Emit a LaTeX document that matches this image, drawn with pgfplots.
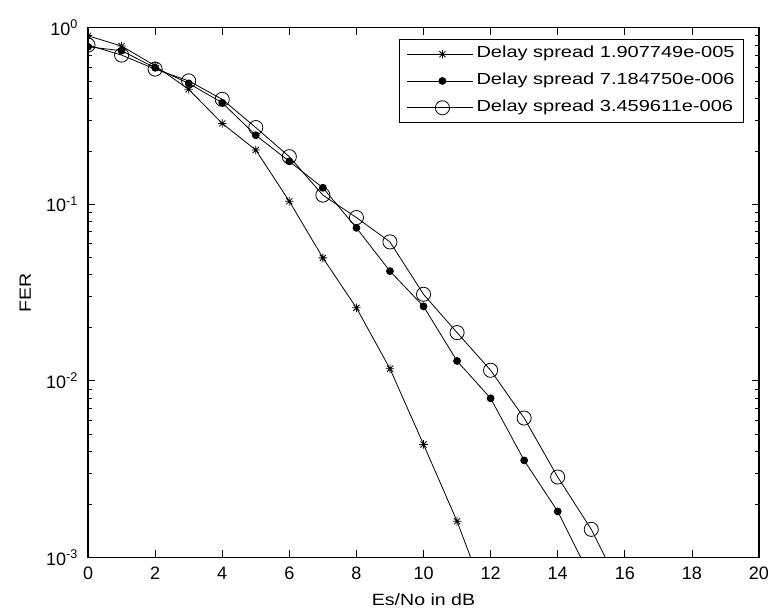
\documentclass[border=0pt]{standalone}
\usepackage{fontspec}
\setmainfont{Liberation Sans}
\newfontfamily\widefont[FakeStretch=1.25]{Liberation Sans}
\newfontfamily\labelfont[FakeStretch=1.2]{Liberation Sans}
\usepackage{pgfplots}
\pgfplotsset{compat=1.18}

% MATLAB-style '*' marker (plus and cross together)
\pgfdeclareplotmark{mstar}{%
  \pgfpathmoveto{\pgfqpoint{-\pgfplotmarksize}{0pt}}%
  \pgfpathlineto{\pgfqpoint{\pgfplotmarksize}{0pt}}%
  \pgfpathmoveto{\pgfqpoint{0pt}{-\pgfplotmarksize}}%
  \pgfpathlineto{\pgfqpoint{0pt}{\pgfplotmarksize}}%
  \pgfpathmoveto{\pgfqpoint{-0.72\pgfplotmarksize}{-0.72\pgfplotmarksize}}%
  \pgfpathlineto{\pgfqpoint{0.72\pgfplotmarksize}{0.72\pgfplotmarksize}}%
  \pgfpathmoveto{\pgfqpoint{-0.72\pgfplotmarksize}{0.72\pgfplotmarksize}}%
  \pgfpathlineto{\pgfqpoint{0.72\pgfplotmarksize}{-0.72\pgfplotmarksize}}%
  \pgfusepathqstroke}

\begin{document}
\begin{tikzpicture}
\begin{semilogyaxis}[
    name=ax,
    scale only axis,
    width=503pt, height=397pt,
    xmin=0, xmax=20, ymin=1e-3, ymax=1,
    xtick={0,2,...,20},
    ytick={1e-3,1e-2,1e-1,1},
    yticklabels={10\textsuperscript{-3},10\textsuperscript{-2},10\textsuperscript{-1},10\textsuperscript{0}},
    /pgf/number format/assume math mode=true,
    tick label style={font=\fontsize{13.5}{15}\selectfont},
    label style={font=\labelfont\fontsize{12.2}{14}\selectfont},
    tick align=inside,
    major tick length=5.2pt,
    minor tick length=3pt,
    axis line style={line width=0.95pt},
    tick style={line width=0.5pt, black},
    xticklabel style={anchor=base, yshift=-17pt},
    yticklabel style={xshift=-4pt},
    xlabel={Es/No in dB},
    ylabel={FER},
    xlabel style={at={(rel axis cs:0.5,0)}, anchor=base, yshift=-36pt},
    ylabel style={at={(rel axis cs:0,0.5)}, anchor=center, yshift=47pt},
    clip marker paths=true,
    legend cell align=left,
    legend style={at={(1,1)}, anchor=north east, xshift=-11.25pt, yshift=-8.5pt,
                  draw=black, line width=0.6pt, fill=white,
                  font=\widefont\fontsize{12}{14}\selectfont,
                  nodes={inner xsep=1pt, inner ysep=0pt, text height=9pt, text depth=4pt},
                  row sep=7.1pt, column sep=1pt, inner xsep=5.75pt, inner ysep=4.5pt},
    legend image code/.code={%
      \path (0pt,0pt) -- (49.5pt,0pt);
      \draw[mark repeat=2, mark phase=2, line width=0.6pt]
        plot coordinates {(3pt,0pt) (26.25pt,0pt) (49.5pt,0pt)};},
    every axis plot/.append style={black, line width=0.6pt},
  ]

\addplot[mark=mstar, mark size=3.2pt] coordinates {
  (0,0.90) (1,0.788) (2,0.609) (3,0.448) (4,0.287) (5,0.203) (6,0.104)
  (7,0.0497) (8,0.0259) (9,0.0117) (10,0.00436) (11,0.0016) (12,0.00050)};
\addlegendentry{Delay spread 1.907749e-005}

\addplot[mark=*, mark size=2.6pt] coordinates {
  (0,0.78) (1,0.741) (2,0.593) (3,0.484) (4,0.376) (5,0.246) (6,0.175)
  (7,0.124) (8,0.0735) (9,0.0418) (10,0.0264) (11,0.01295) (12,0.00796)
  (13,0.00354) (14,0.00182) (15,0.00076)};
\addlegendentry{Delay spread 7.184750e-006}

\addplot[mark=o, mark size=5.3pt] coordinates {
  (0,0.798) (1,0.70) (2,0.583) (3,0.50) (4,0.393) (5,0.272) (6,0.186)
  (7,0.1127) (8,0.0841) (9,0.0612) (10,0.0309) (11,0.01875) (12,0.01147)
  (13,0.00615) (14,0.00285) (15,0.00144) (16,0.00060)};
\addlegendentry{Delay spread 3.459611e-006}

\end{semilogyaxis}
\pgfresetboundingbox
\path (ax.south west) ++(-66pt,-39.75pt) coordinate (bl);
\path (ax.north east) ++(9.75pt,20.8pt) coordinate (tr);
\path[use as bounding box] (bl) rectangle (tr);
\end{tikzpicture}
\end{document}
